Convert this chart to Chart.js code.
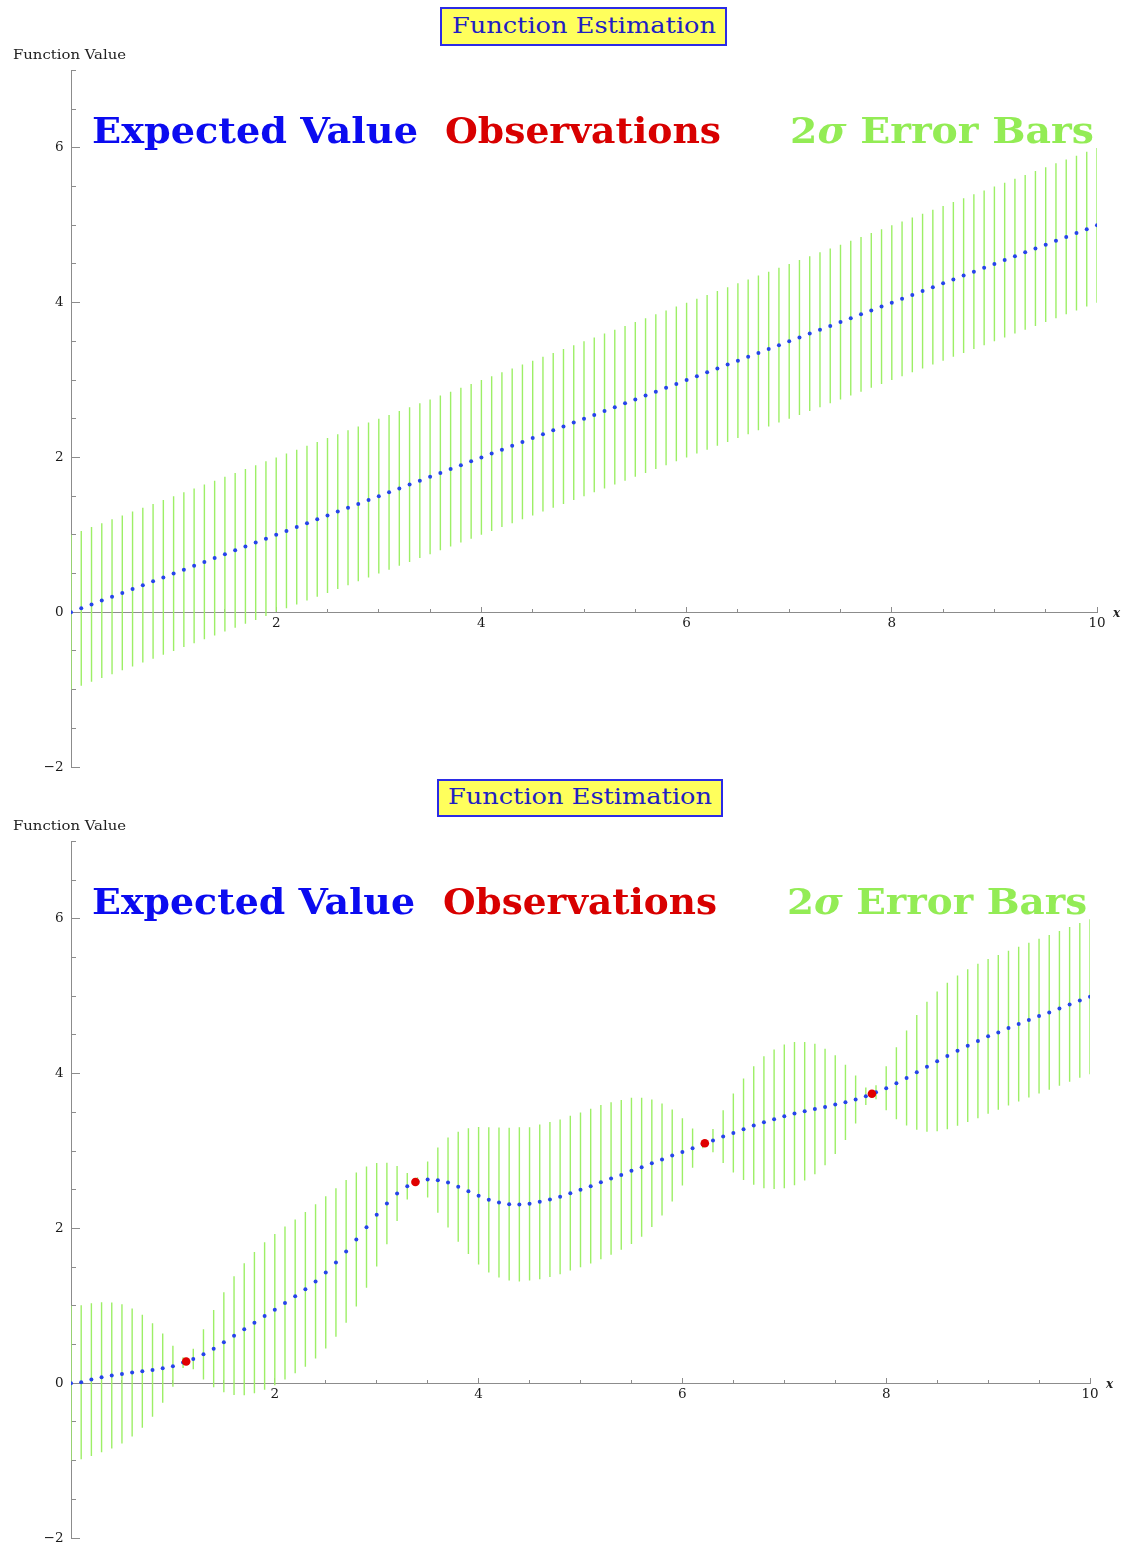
<!DOCTYPE html>
<html><head><meta charset="utf-8">
<script src="https://cdn.jsdelivr.net/npm/chart.js@4.4.1/dist/chart.umd.min.js"></script>
<style>
html,body{margin:0;padding:0;background:#fff;}
#page{position:relative;width:1124px;height:1543px;overflow:hidden;background:#fff;}
canvas{position:absolute;left:0;}
.t{position:absolute;white-space:nowrap;line-height:normal;transform-origin:0 0;}
.box{position:absolute;box-sizing:border-box;border:2px solid #2b2be6;background:#ffff5c;}
</style></head><body>
<div id="page">
 <canvas id="c1" width="1124" height="771" style="top:0px"></canvas>
 <canvas id="c2" width="1124" height="772" style="top:771px"></canvas>
</div>
<script>
// ---------------- data ----------------
const xGrid = [
 0,0.1,0.2,0.3,0.4,0.5,0.6,0.7,0.8,0.9,
 1,1.1,1.2,1.3,1.4,1.5,1.6,1.7,1.8,1.9,
 2,2.1,2.2,2.3,2.4,2.5,2.6,2.7,2.8,2.9,
 3,3.1,3.2,3.3,3.4,3.5,3.6,3.7,3.8,3.9,
 4,4.1,4.2,4.3,4.4,4.5,4.6,4.7,4.8,4.9,
 5,5.1,5.2,5.3,5.4,5.5,5.6,5.7,5.8,5.9,
 6,6.1,6.2,6.3,6.4,6.5,6.6,6.7,6.8,6.9,
 7,7.1,7.2,7.3,7.4,7.5,7.6,7.7,7.8,7.9,
 8,8.1,8.2,8.3,8.4,8.5,8.6,8.7,8.8,8.9,
 9,9.1,9.2,9.3,9.4,9.5,9.6,9.7,9.8,9.9,
 10];

// upper chart: expected value before observations
const priorMean = [
 0,0.05,0.1,0.15,0.2,0.25,0.3,0.35,0.4,0.45,
 0.5,0.55,0.6,0.65,0.7,0.75,0.8,0.85,0.9,0.95,
 1,1.05,1.1,1.15,1.2,1.25,1.3,1.35,1.4,1.45,
 1.5,1.55,1.6,1.65,1.7,1.75,1.8,1.85,1.9,1.95,
 2,2.05,2.1,2.15,2.2,2.25,2.3,2.35,2.4,2.45,
 2.5,2.55,2.6,2.65,2.7,2.75,2.8,2.85,2.9,2.95,
 3,3.05,3.1,3.15,3.2,3.25,3.3,3.35,3.4,3.45,
 3.5,3.55,3.6,3.65,3.7,3.75,3.8,3.85,3.9,3.95,
 4,4.05,4.1,4.15,4.2,4.25,4.3,4.35,4.4,4.45,
 4.5,4.55,4.6,4.65,4.7,4.75,4.8,4.85,4.9,4.95,
 5];
// half-length of the 2-sigma error bar
const priorHalf = [
 1,1,1,1,1,1,1,1,1,1,
 1,1,1,1,1,1,1,1,1,1,
 1,1,1,1,1,1,1,1,1,1,
 1,1,1,1,1,1,1,1,1,1,
 1,1,1,1,1,1,1,1,1,1,
 1,1,1,1,1,1,1,1,1,1,
 1,1,1,1,1,1,1,1,1,1,
 1,1,1,1,1,1,1,1,1,1,
 1,1,1,1,1,1,1,1,1,1,
 1,1,1,1,1,1,1,1,1,1,
 1];

// lower chart: expected value after observations
const postMean = [
 0,0.013,0.047,0.077,0.099,0.12,0.138,0.155,0.172,0.194,
 0.219,0.267,0.314,0.374,0.447,0.529,0.615,0.697,0.783,0.869,
 0.951,1.037,1.123,1.213,1.316,1.432,1.561,1.703,1.858,2.017,
 2.176,2.323,2.452,2.546,2.61,2.632,2.624,2.594,2.538,2.482,
 2.422,2.37,2.335,2.314,2.31,2.318,2.344,2.374,2.409,2.456,
 2.499,2.546,2.598,2.645,2.692,2.744,2.791,2.843,2.89,2.942,
 2.989,3.037,3.085,3.135,3.187,3.234,3.282,3.329,3.372,3.411,
 3.449,3.484,3.514,3.544,3.57,3.6,3.63,3.665,3.708,3.759,
 3.811,3.875,3.944,4.017,4.09,4.159,4.228,4.297,4.361,4.422,
 4.482,4.533,4.589,4.641,4.692,4.744,4.791,4.843,4.895,4.946,
 4.994];
const postHalf = [
 1.0,0.994,0.987,0.97,0.944,0.9,0.828,0.731,0.604,0.447,
 0.265,0.07,0.133,0.325,0.499,0.645,0.768,0.852,0.914,0.953,
 0.976,0.989,0.994,1.0,0.996,0.983,0.959,0.923,0.865,0.783,
 0.669,0.527,0.355,0.172,0.05,0.232,0.421,0.581,0.71,0.813,
 0.888,0.938,0.97,0.987,0.996,0.991,1.0,1.0,1.0,1.0,
 1.0,1.0,0.996,0.985,0.968,0.944,0.897,0.824,0.723,0.594,
 0.434,0.254,0.05,0.15,0.34,0.51,0.656,0.766,0.852,0.901,
 0.929,0.925,0.895,0.843,0.753,0.639,0.486,0.31,0.114,0.09,
 0.284,0.465,0.615,0.742,0.839,0.903,0.946,0.97,0.987,0.998,
 1.0,1.0,1.0,1.0,1.0,1.0,1.0,1.0,1.0,1.0,
 1.0];

// observations (lower chart)
const obsX = [1.13, 3.38, 6.22, 7.86];
const obsY = [0.28, 2.60, 3.10, 3.74];

// axis tick values with labels
const xLabelTicks = [2, 4, 6, 8, 10];
const yLabelTicks = [-2, 0, 2, 4, 6];

// ---------------- styling ----------------
const GREEN = '#9def66';
const LEGGREEN = '#93ec55';
const BLUE  = '#2644ea';
const RED   = '#e00000';
const AXIS  = '#8c8c8c';
const TICKFONT = {family: 'DejaVu Serif', size: 13.5};
const TICKCOLOR = '#1a1a1a';

function fmt(v){ return v < 0 ? '\u2212' + Math.abs(v) : String(v); }
function noPad(s){ s.paddingLeft = 0; s.paddingRight = 0; s.paddingTop = 0; s.paddingBottom = 0; }
function near(list, v){ return list.some(t => Math.abs(t - v) < 1e-9); }

function build(id, mean, half, withObs, padRight, padBottom) {
  const bars = xGrid.map((x, i) => ({x: x, y: [mean[i] - half[i], mean[i] + half[i]]}));
  const pts  = xGrid.map((x, i) => ({x: x, y: mean[i]}));
  const datasets = [];
  if (withObs) {
    datasets.push({type: 'scatter', label: 'Observations', data: obsX.map((x, i) => ({x: x, y: obsY[i]})),
      backgroundColor: RED, borderWidth: 0, pointRadius: 4.3, xAxisID: 'x', yAxisID: 'y'});
  }
  datasets.push({type: 'scatter', label: 'Expected Value', data: pts, backgroundColor: BLUE,
    borderWidth: 0, pointRadius: 2.0, xAxisID: 'x', yAxisID: 'y'});
  datasets.push({type: 'bar', label: '2σ Error Bars', data: bars, backgroundColor: GREEN, borderWidth: 0,
     barThickness: 1.4, inflateAmount: 0, xAxisID: 'x', yAxisID: 'y'});

  return new Chart(document.getElementById(id), {
    type: 'scatter',
    data: {datasets: datasets},
    options: {
      responsive: false, animation: false, devicePixelRatio: 1, events: [],
      layout: {padding: {left: 0, right: padRight, top: 70.5, bottom: padBottom}},
      plugins: {legend: {display: false}, tooltip: {enabled: false}, title: {display: false}},
      scales: {
        y: {type: 'linear', position: 'left', min: -2, max: 7,
            grid: {drawOnChartArea: false, drawTicks: true, tickLength: -9, color: AXIS, lineWidth: 1},
            border: {display: true, color: AXIS, width: 1},
            ticks: {stepSize: 2, includeBounds: false, autoSkip: false, padding: 16.5,
                    font: TICKFONT, color: TICKCOLOR,
                    callback: v => near(yLabelTicks, v) ? fmt(v) : ''},
            afterFit: s => { s.width = 71; noPad(s); }},
        yMinor: {type: 'linear', axis: 'y', position: {x: 0}, min: -2, max: 7,
            grid: {drawOnChartArea: false, drawTicks: true, tickLength: -5, color: AXIS, lineWidth: 1},
            border: {display: false},
            ticks: {stepSize: 0.5, autoSkip: false, callback: () => ''},
            afterFit: s => { s.width = 0; noPad(s); }},
        x: {type: 'linear', position: {y: 0}, min: 0, max: 10, offset: false,
            grid: {offset: false, drawOnChartArea: false, drawTicks: true, tickLength: -6, color: AXIS, lineWidth: 1},
            border: {display: true, color: AXIS, width: 1},
            ticks: {stepSize: 2, includeBounds: false, autoSkip: false, maxRotation: 0, padding: 8.7,
                    font: TICKFONT, color: TICKCOLOR,
                    callback: v => near(xLabelTicks, v) ? fmt(v) : ''},
            afterFit: s => { s.height = 0; noPad(s); }},
        xMinor: {type: 'linear', axis: 'x', position: {y: 0}, min: 0, max: 10, offset: false,
            grid: {offset: false, drawOnChartArea: false, drawTicks: true, tickLength: -3, color: AXIS, lineWidth: 1},
            border: {display: false},
            ticks: {stepSize: 0.5, autoSkip: false, maxRotation: 0, callback: () => ''},
            afterFit: s => { s.height = 0; noPad(s); }}
      }
    }
  });
}

build('c1', priorMean, priorHalf, false, 27, 4);
build('c2', postMean, postHalf, true, 34, 5);

// ---------------- text (real HTML text) ----------------
const page = document.getElementById('page');
function addBox(left, top, w, h){
  const b = document.createElement('div'); b.className = 'box';
  b.style.left = left + 'px'; b.style.top = top + 'px'; b.style.width = w + 'px'; b.style.height = h + 'px';
  page.appendChild(b);
}
function addText(html, o){
  const d = document.createElement('div');
  d.className = 't'; d.innerHTML = html;
  d.style.font = o.font; d.style.color = o.color;
  d.style.left = '0px'; d.style.top = '0px';
  page.appendChild(d);
  const probe = document.createElement('span');
  probe.style.cssText = 'display:inline-block;width:0;height:0;vertical-align:baseline';
  d.appendChild(probe);
  const r = d.getBoundingClientRect();
  const baseOff = probe.getBoundingClientRect().bottom - r.top;
  d.removeChild(probe);
  const w = d.getBoundingClientRect().width;
  const k = o.width ? o.width / w : 1;
  const W = w * k;
  const left = (o.left !== undefined) ? o.left : o.center - W / 2;
  d.style.transform = 'scaleX(' + k + ')';
  d.style.left = left + 'px';
  d.style.top = (o.base - baseOff) + 'px';
}

function layoutText(){
  const TITLE_FONT = '22px "DejaVu Serif"';
  const LEG_FONT = 'bold 35.5px "DejaVu Serif"';
  const AX_FONT = '13.7px "DejaVu Serif"';
  const X_FONT = 'italic bold 12px "DejaVu Serif"';
  const panels = [
    {dy: 0,   box: [440, 7, 287, 39], tc: 583.5, tb: 32.5,
     leg: [[92, 326], [445, 276], [790, 304]], lb: 143, xl: 1113, xb: 617},
    {dy: 771, box: [437, 8, 286, 38], tc: 580, tb: 32.5,
     leg: [[92, 323], [443, 274], [787, 300]], lb: 143, xl: 1106, xb: 617}
  ];
  panels.forEach(p => {
    addBox(p.box[0], p.box[1] + p.dy, p.box[2], p.box[3]);
    addText('Function Estimation', {center: p.tc, base: p.tb + p.dy, width: 264, font: TITLE_FONT, color: '#2020c4'});
    addText('Function Value', {left: 13, base: 59.3 + p.dy, width: 113, font: AX_FONT, color: '#222'});
    addText('Expected Value', {left: p.leg[0][0], base: p.lb + p.dy, width: p.leg[0][1], font: LEG_FONT, color: '#0b0bf0'});
    addText('Observations', {left: p.leg[1][0], base: p.lb + p.dy, width: p.leg[1][1], font: LEG_FONT, color: '#d80000'});
    addText('2<i>σ</i> Error Bars', {left: p.leg[2][0], base: p.lb + p.dy, width: p.leg[2][1], font: LEG_FONT, color: LEGGREEN});
    addText('x', {left: p.xl, base: p.xb + p.dy, font: X_FONT, color: '#222'});
  });
}
if (document.fonts && document.fonts.ready) { document.fonts.ready.then(layoutText); } else { layoutText(); }
</script>
</body></html>
